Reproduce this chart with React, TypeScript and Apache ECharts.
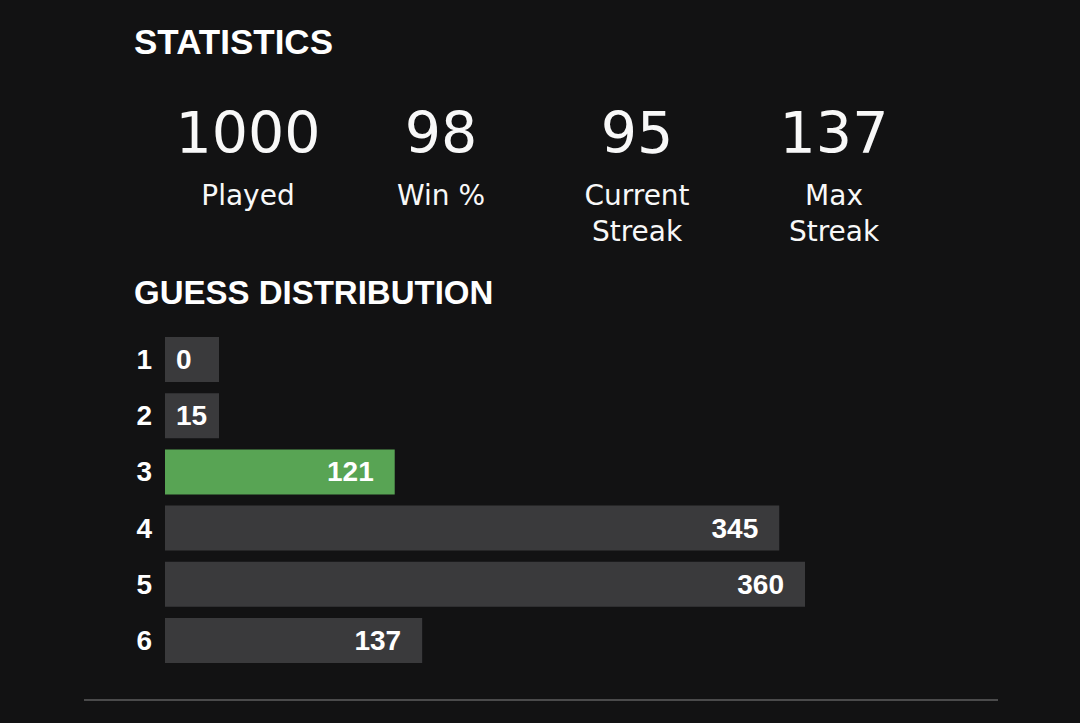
import React, { useEffect, useRef } from "react";
import * as echarts from "echarts";

const statValues = ["1000", "98", "95", "137"];
const statLabels = ["Played", "Win %", "Current\nStreak", "Max\nStreak"];
const guessCategories = ["1", "2", "3", "4", "5", "6"];
const guessCounts = [0, 15, 121, 345, 360, 137];
const highlightIndex = 2;

const BG = "#121213";
const BAR_GRAY = "#3a3a3c";
const BAR_GREEN = "#58a454";
const GRID_LEFT = 165;
const GRID_WIDTH = 640;
const BAR_PAD_PX = 22;
const SMALL_FRACTION = 0.1;

export default function App() {
  const ref = useRef<HTMLDivElement>(null);

  useEffect(() => {
    if (!ref.current) return;
    const chart = echarts.init(ref.current, undefined, { renderer: "svg" });
    const maxCount = Math.max(...guessCounts);
    const padUnits = (BAR_PAD_PX * maxCount) / (GRID_WIDTH - BAR_PAD_PX);
    const colorFor = (i: number) => (i === highlightIndex ? BAR_GREEN : BAR_GRAY);

    const statCenters = [248, 441, 637, 834];
    const graphics: any[] = [
      {
        type: "text",
        x: 134,
        y: 41,
        style: {
          text: "STATISTICS",
          fill: "#ffffff",
          font: "bold 35px 'Liberation Sans', Arial, sans-serif",
          verticalAlign: "middle",
        },
      },
      {
        type: "text",
        x: 134,
        y: 292,
        style: {
          text: "GUESS DISTRIBUTION",
          fill: "#ffffff",
          font: "bold 33px 'Liberation Sans', Arial, sans-serif",
          verticalAlign: "middle",
        },
      },
      {
        type: "line",
        shape: { x1: 84, y1: 700, x2: 998, y2: 700 },
        style: { stroke: "#4a4a4b", lineWidth: 2 },
      },
    ];
    statValues.forEach((v, i) => {
      graphics.push({
        type: "text",
        x: statCenters[i],
        y: 132.5,
        style: {
          text: v,
          fill: "#f8f8f8",
          font: "57px 'DejaVu Sans', sans-serif",
          align: "center",
          verticalAlign: "middle",
        },
      });
      graphics.push({
        type: "text",
        x: statCenters[i],
        y: 177,
        style: {
          text: statLabels[i],
          fill: "#f8f8f8",
          font: "28px 'DejaVu Sans', sans-serif",
          align: "center",
          verticalAlign: "top",
          lineHeight: 36,
        },
      });
    });

    chart.setOption({
      animation: false,
      backgroundColor: BG,
      grid: { left: GRID_LEFT, width: GRID_WIDTH, top: 331.5, height: 337 },
      xAxis: {
        type: "value",
        min: 0,
        max: maxCount + padUnits,
        show: false,
      },
      yAxis: {
        type: "category",
        data: guessCategories,
        inverse: true,
        axisLine: { show: false },
        axisTick: { show: false },
        splitLine: { show: false },
        axisLabel: {
          color: "#ffffff",
          fontWeight: "bold",
          fontSize: 28,
          fontFamily: "'Liberation Sans', Arial, sans-serif",
          margin: 13,
        },
      },
      series: [
        {
          type: "bar",
          stack: "guess",
          silent: true,
          barWidth: 45,
          data: guessCounts.map((_, i) => ({
            value: padUnits,
            itemStyle: { color: colorFor(i) },
            label: { show: guessCounts[i] / maxCount < SMALL_FRACTION, formatter: String(guessCounts[i]) },
          })),
          label: {
            show: false,
            position: "insideLeft",
            distance: 11,
            color: "#ffffff",
            fontWeight: "bold",
            fontSize: 28,
            fontFamily: "'Liberation Sans', Arial, sans-serif",
          },
        },
        {
          type: "bar",
          stack: "guess",
          barWidth: 45,
          barMinHeight: 32,
          data: guessCounts.map((c, i) => ({
            value: c,
            itemStyle: { color: colorFor(i) },
            label: { show: c / maxCount >= SMALL_FRACTION },
          })),
          label: {
            show: true,
            position: "insideRight",
            distance: 21,
            color: "#ffffff",
            fontWeight: "bold",
            fontSize: 28,
            fontFamily: "'Liberation Sans', Arial, sans-serif",
          },
        },
      ],
      graphic: graphics,
    });

    return () => chart.dispose();
  }, []);

  return (
    <div
      ref={ref}
      style={{ position: "absolute", left: 0, top: 0, width: 1080, height: 723 }}
    />
  );
}
